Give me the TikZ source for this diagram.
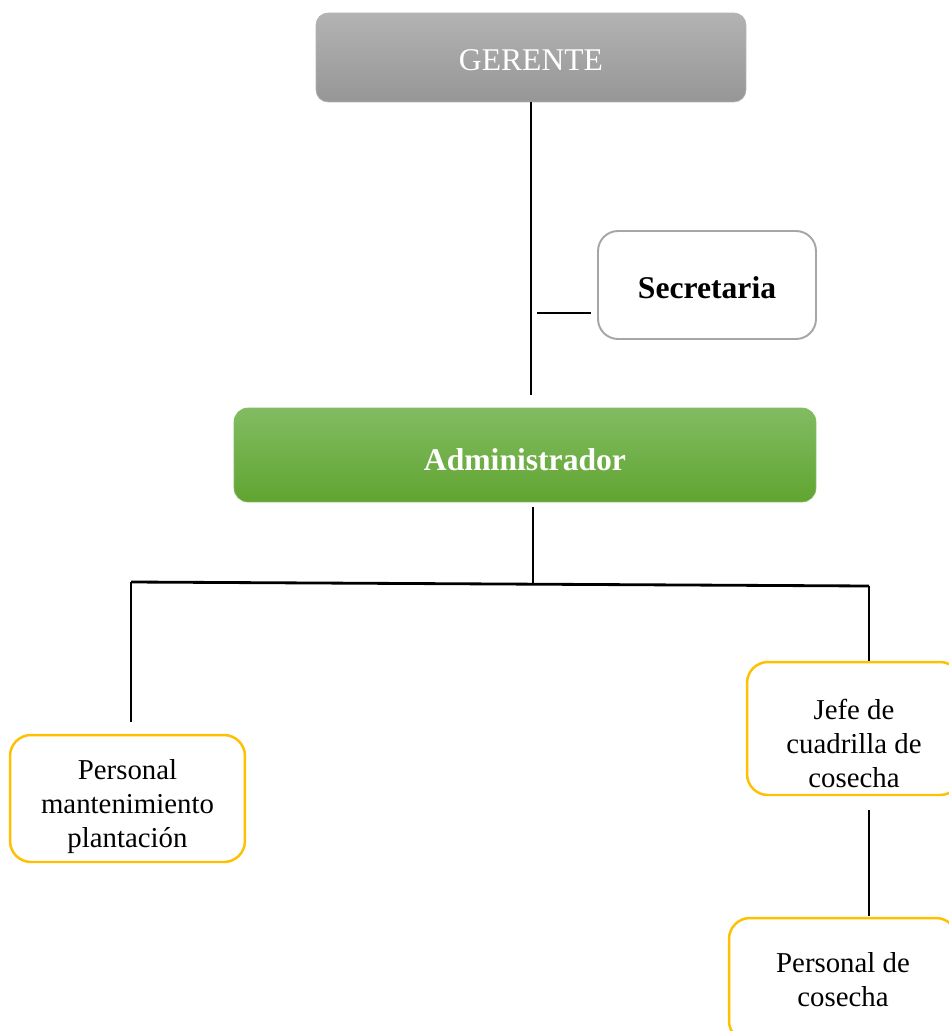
\documentclass[tikz,border=0pt]{standalone}
\usepackage{fontspec}
\setmainfont{Liberation Serif}
\definecolor{Gris1}{HTML}{B3B3B3}
\definecolor{Gris2}{HTML}{969696}
\definecolor{Verde1}{HTML}{82BC62}
\definecolor{Verde2}{HTML}{61A431}
\definecolor{Borde}{HTML}{A6A6A6}
\definecolor{Amarillo}{HTML}{FFC000}

\begin{document}
\begin{tikzpicture}[x=0.02cm,y=-0.02cm,
 caja/.style={rounded corners=0.42cm,inner sep=0pt,
   draw=Amarillo,line width=1.4pt,fill=white},
 texto/.style={align=center,font=\fontsize{16.4}{19.3}\selectfont,inner sep=0pt},
 linea/.style={line width=1.6pt,black}]
\useasboundingbox (0,0) rectangle (948,1031);

% cargos de arriba
\node[rounded corners=0.24cm,top color=Gris1,bottom color=Gris2,draw=Gris1,
  minimum width=8.6cm,minimum height=1.78cm,text=white,text height=15pt,
  font=\fontsize{18}{22}\selectfont] (ger) at (531,57.5) {GERENTE};
\node[rounded corners=0.4cm,draw=Borde,line width=1.1pt,fill=white,
  minimum width=4.36cm,minimum height=2.16cm,text height=16pt,
  font=\fontsize{18}{22}\selectfont\bfseries] (sec) at (707,285) {Secretaria};
\node[rounded corners=0.28cm,top color=Verde1,bottom color=Verde2,draw=Verde1,
  minimum width=11.64cm,minimum height=1.88cm,text=white,text height=18pt,
  font=\fontsize{18}{22}\selectfont\bfseries] (adm) at (525,455) {Administrador};

% personal
\node[caja,minimum width=4.7cm,minimum height=2.54cm,
  label={[texto,yshift=-0.16cm]center:Personal\\ mantenimiento\\ plantación}]
  (man) at (127.5,798.5) {};
\node[caja,minimum width=4.28cm,minimum height=2.66cm,
  label={[texto,yshift=-0.3cm]center:Jefe de\\ cuadrilla de\\ cosecha}]
  (jef) at (854,728.5) {};
\node[caja,minimum width=4.56cm,minimum height=2.48cm,
  label={[texto]center:Personal de\\ cosecha}]
  (cos) at (843,980) {};

\coordinate (g1) at (531,395);
\coordinate (s1) at (537,313);
\coordinate (s2) at (591,313);
\coordinate (a1) at (533,507);
\coordinate (h1) at (131,582);
\coordinate (h2) at (869,586);
\coordinate (m1) at (131,722);
\coordinate (j1) at (869,810);
\coordinate (c1) at (869,916);

\draw[linea] (ger.south) -- (g1);
\draw[linea] (s1) -- (s2);
\draw[linea] (a1) -- (a1 |- 0,584);
\draw[linea] (h1) -- (h2);
\draw[linea] (h1) -- (m1);
\draw[linea] (h2) -- (h2 |- jef.north);
\draw[linea] (j1) -- (c1);
\end{tikzpicture}
\end{document}
